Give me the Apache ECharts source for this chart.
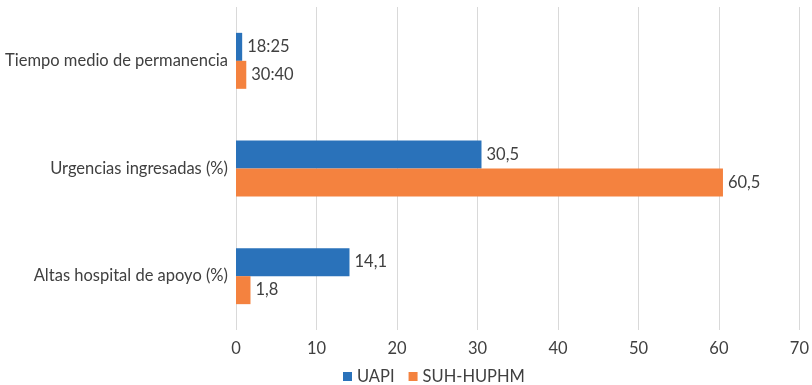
<!DOCTYPE html>
<html>
<head>
<meta charset="utf-8">
<script src="https://cdn.jsdelivr.net/npm/echarts@6/dist/echarts.min.js"></script>
<style>
  html, body { margin: 0; padding: 0; background: #fff; }
  #chart { width: 812px; height: 385px; }
</style>
</head>
<body>
<div id="chart"></div>
<script>
const categories = ['Tiempo medio de permanencia', 'Urgencias ingresadas (%)', 'Altas hospital de apoyo (%)'];
// tiempo medio is plotted as hours/24 (days)
const uapiValues = [18.42 / 24, 30.5, 14.1];
const suhValues = [30.67 / 24, 60.5, 1.8];
const uapiLabels = ['18:25', '30,5', '14,1'];
const suhLabels = ['30:40', '60,5', '1,8'];
const xTicks = [0, 10, 20, 30, 40, 50, 60, 70];

const FONT = 'Lato, "Open Sans", sans-serif';
const TEXT = '#404040';
const SIZE = 16.5;

const chart = echarts.init(document.getElementById('chart'));

function makeSeries(name, values, labels, color) {
  return {
    name,
    type: 'bar',
    data: values,
    barGap: '0%',
    barCategoryGap: '48%',
    itemStyle: { color },
    label: {
      show: true,
      position: 'right',
      distance: 5,
      color: TEXT,
      fontSize: SIZE,
      fontFamily: FONT,
      formatter: p => labels[p.dataIndex],
    },
  };
}

chart.setOption({
  animation: false,
  textStyle: { fontFamily: FONT },
  grid: { left: 236, right: 9, top: 7, bottom: 55, containLabel: false },
  legend: {
    top: 363,
    left: 338,
    itemWidth: 9,
    itemHeight: 9,
    itemGap: 14,
    icon: 'rect',
    textStyle: { color: TEXT, fontSize: SIZE, fontFamily: FONT },
    data: ['UAPI', 'SUH-HUPHM'],
  },
  xAxis: {
    type: 'value',
    min: xTicks[0],
    max: xTicks[xTicks.length - 1],
    interval: 10,
    axisLine: { show: false },
    axisTick: { show: false },
    axisLabel: { color: TEXT, fontSize: SIZE, fontFamily: FONT, margin: 10 },
    splitLine: { lineStyle: { color: '#d9d9d9' } },
  },
  yAxis: {
    type: 'category',
    inverse: true,
    data: categories,
    axisLine: { show: false },
    axisTick: { show: false },
    axisLabel: { color: TEXT, fontSize: SIZE, fontFamily: FONT, margin: 8 },
  },
  series: [
    makeSeries('UAPI', uapiValues, uapiLabels, '#2a72ba'),
    makeSeries('SUH-HUPHM', suhValues, suhLabels, '#f4823f'),
  ],
});
</script>
</body>
</html>
